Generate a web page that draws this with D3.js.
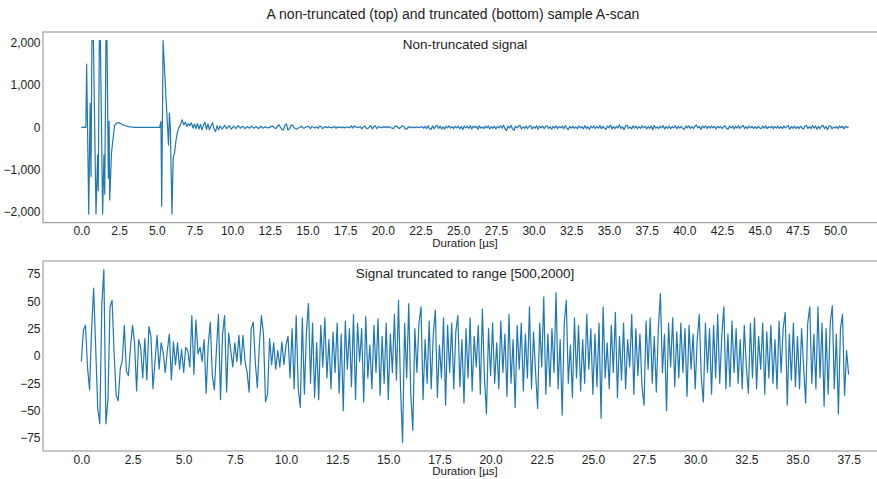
<!DOCTYPE html>
<html>
<head>
<meta charset="UTF-8">
<style>
body { margin: 0; background: #fff; }
text { font-family: "Liberation Sans", Arial, sans-serif; fill: #222; }
.tick text { font-size: 12px; }
.frame { fill: none; stroke: #8c8c8c; stroke-width: 1; }
.line { fill: none; stroke: #1f77b4; stroke-width: 1.2px; stroke-linejoin: round; }
</style>
</head>
<body>
<svg width="877" height="479"></svg>
<script src="https://cdn.jsdelivr.net/npm/d3@7"></script>
<script>
// start of the signal (0 - 12.5 us), read at irregular times [us]
var headTime = [0, 0.3, 0.35, 0.49, 0.58, 0.64, 0.7, 0.8, 0.97, 1.08, 1.12, 1.19, 1.26, 1.41, 1.5, 1.55,
  1.63, 1.7, 1.79, 1.84, 1.88, 2.0, 2.07, 2.2, 2.33, 2.5, 2.8, 3.2, 3.6, 4.5, 5.2, 5.25, 5.28, 5.33,
  5.42, 5.61, 5.72, 5.78, 5.84, 5.9, 6.01, 6.09, 6.18, 6.28, 6.38, 6.48, 6.58, 6.68, 6.8, 6.9, 7.0,
  7.1, 7.2, 7.3, 7.4, 7.5, 7.6, 7.7, 7.8, 7.9, 8.0, 8.1, 8.2, 8.3, 8.4, 8.5, 8.6, 8.7, 8.8, 8.9, 9.0,
  9.1, 9.2, 9.35, 9.5, 9.65, 9.8, 9.95, 10.1, 10.25, 10.4, 10.55, 10.7, 10.85, 11.0, 11.15, 11.3,
  11.45, 11.6, 11.75, 11.9, 12.05, 12.2, 12.35, 12.45];
var headValue = [0, 0, 1495, -2048, 572, -1163, 2048, 2048, -2048, -650, -1500, 2048, 2048, -2048, -650, -1580,
  2048, 2048, -1200, 140, -1715, -600, -370, 40, 100, 110, 50, 10, 0, 0, 0, 100, 140, -1865,
  2048, 730, 0, -414, 335, 0, -2048, -730, -610, -300, -100, 0, 60, 177, 60, 120, 20,
  90, 40, 110, -20, 80, -30, 90, -40, 70, -60, 60, 120, -50, 80, -60, 40, 110, -40, -100, 40,
  -60, 30, -40, 50, -30, 40, -40, 30, -30, 40, -20, 30, -30, 20, -20, 30,
  -20, 20, -30, 25, -20, 15, -15, 0];

// truncated signal (samples 500-2000), one value every 0.1 us
var truncStep = 0.1;
var truncValue = [
  -5, 24, 28, -10, -31, 24, 62, 8, -48, -62,
  47, 79, -62, -40, 45, 51, 3, -36, -41, -12,
  -4, 28, -14, -18, 8, 28, 12, -32, 15, 8,
  -20, 16, -22, 27, 18, -30, -5, 19, -12, 12,
  3, -15, 5, 20, -22, 13, -8, 12, -12, 6,
  -15, 8, 5, -10, 37, -17, 33, 2, 8, -5,
  15, -34, 10, 31, -18, -31, 5, 38, -40, 20,
  37, -33, 21, 5, -10, 12, -5, 19, -8, 19,
  -5, -15, -33, 25, 31, -5, -29, 10, 37, 20,
  -42, -35, 16, -8, 12, -12, 5, -10, 13, -8,
  10, 18, -20, 25, -30, 37, -30, -47, 35, -35,
  22, 48, -25, 30, -38, 12, -40, 28, -10, 35,
  -20, 15, -30, 22, -15, 30, -34, 20, -50, 32,
  -12, 25, -28, 38, -40, 30, -5, 25, -42, 36,
  -20, 10, -30, 28, -15, 34, -36, 18, -25, 30,
  -40, 20, -15, 38, -22, 51, -30, -79, 30, -20,
  48, -35, -68, 25, -15, 30, 45, -40, 15, -25,
  32, -30, 20, 42, -38, 10, -20, 35, -45, 28,
  -15, 30, -30, 22, 37, -28, 15, -43, 25, -20,
  35, -32, 18, -10, 28, -35, 43, -20, -53, 25,
  -18, 30, -25, 12, -30, 32, -15, 20, -37, 38,
  -25, 15, -47, 28, -12, 30, -32, 20, -20, 45,
  -30, 22, -15, -48, 30, -10, 54, -35, 20, -28,
  25, -15, 58, -30, 15, -54, 30, 51, -25, 10,
  -38, 35, -20, 28, -32, 15, -25, 38, -12, 25,
  -35, 20, -28, 30, -57, 45, -20, 12, -30, 28,
  -15, 40, -38, 18, -22, 30, -30, 15, -10, 38,
  -35, 25, -18, 20, -28, -45, 32, -12, 35, -25,
  18, -33, 25, 57, -15, 20, -50, 30, -10, 35,
  -28, 22, -20, 30, -15, 25, -37, 28, -12, 20,
  -30, 15, 38, -20, -42, 30, -15, 25, -35, 28,
  -20, 38, -25, 18, 45, -30, 20, -28, 32, -15,
  25, -25, 15, -30, 28, -10, -34, 30, -20, 35,
  -30, 18, -12, 30, -35, 22, -20, 28, -25, 15,
  -30, 32, -15, 25, 40, -45, 20, -22, 30, -28,
  18, -30, 25, -10, -43, 30, 45, -25, 20, -30,
  45, -20, 30, -46, 25, -35, 30, 46, -30, 20,
  -53, 25, 38, -36, 5, -17];
var truncStart = 12.5;   // us, where the truncated range begins in the full signal

// last samples of the full signal after the truncated range (50.1 - 50.9 us)
var endValue = [20, -30, 35, -10, 25, -35, 30, -5, 10];

var xTicksTop = d3.range(0, 50.01, 2.5);
var xTicksBottom = d3.range(0, 37.51, 2.5);
var yTicksTop = [-2000, -1000, 0, 1000, 2000];
var yTicksBottom = [-75, -50, -25, 0, 25, 50, 75];

var titleText = "A non-truncated (top) and truncated (bottom) sample A-scan";
var topTitle = "Non-truncated signal";
var bottomTitle = "Signal truncated to range [500,2000]";
var xLabel = "Duration [\u00b5s]";

// build the series
var truncated = truncValue.map(function(v, i) { return {t: i * truncStep, v: v}; });
var full = headTime.map(function(t, i) { return {t: t, v: headValue[i]}; })
  .concat(truncated.map(function(d) { return {t: truncStart + d.t, v: d.v}; }))
  .concat(endValue.map(function(v, i) { return {t: 50.1 + i * 0.1, v: v}; }));

var svg = d3.select("svg");
var left = 43, right = 887;

function pad(ext) {
  var m = (ext[1] - ext[0]) * 0.05;
  return [ext[0] - m, ext[1] + m];
}

svg.append("text")
    .attr("x", 453)
    .attr("y", 19)
    .attr("text-anchor", "middle")
    .style("font-size", "14px")
    .text(titleText);

function panel(data, top, bottom, xTicks, yTicks, yFormat, title) {
  var x = d3.scaleLinear().domain(pad(d3.extent(data, function(d) { return d.t; }))).range([left, right]);
  var y = d3.scaleLinear().domain(pad(d3.extent(data, function(d) { return d.v; }))).range([bottom, top]);
  var g = svg.append("g");

  g.append("g")
      .attr("transform", "translate(0," + bottom + ")")
      .call(d3.axisBottom(x).tickValues(xTicks).tickFormat(d3.format(".1f")).tickSize(0).tickPadding(4))
      .call(function(a) { a.select(".domain").remove(); });

  g.append("g")
      .attr("transform", "translate(" + left + ",0)")
      .call(d3.axisLeft(y).tickValues(yTicks).tickFormat(yFormat).tickSize(0).tickPadding(2.5))
      .call(function(a) { a.select(".domain").remove(); });

  g.append("path")
      .datum(data)
      .attr("class", "line")
      .attr("d", d3.line().x(function(d) { return x(d.t); }).y(function(d) { return y(d.v); }));

  g.append("rect")
      .attr("class", "frame")
      .attr("x", left)
      .attr("y", top)
      .attr("width", right - left)
      .attr("height", bottom - top);

  g.append("text")
      .attr("x", (left + right) / 2)
      .attr("y", top + 17)
      .attr("text-anchor", "middle")
      .style("font-size", "13.5px")
      .text(title);

  g.append("text")
      .attr("x", (left + right) / 2)
      .attr("y", bottom + 24)
      .attr("text-anchor", "middle")
      .style("font-size", "11.5px")
      .text(xLabel);
}

panel(full, 32, 222.7, xTicksTop, yTicksTop, d3.format(","), topTitle);
panel(truncated, 261, 451, xTicksBottom, yTicksBottom, d3.format("d"), bottomTitle);
</script>
</body>
</html>
